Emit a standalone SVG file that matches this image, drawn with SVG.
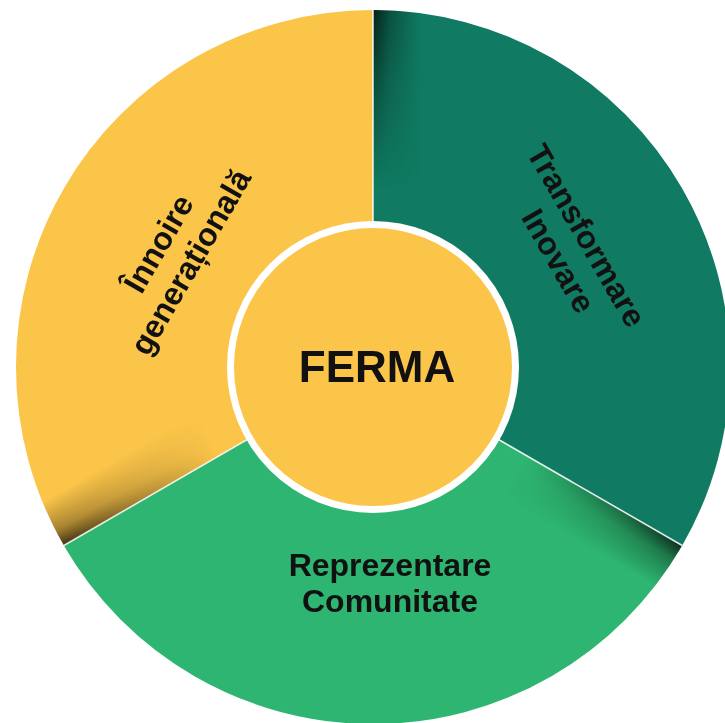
<svg xmlns="http://www.w3.org/2000/svg" width="725" height="723" viewBox="0 0 725 723">
  <style>
    .lbl { font-family: "Liberation Sans", Arial, sans-serif; font-weight: 700; font-size: 32px; fill: #111; text-anchor: middle; }
    .core { font-family: "Liberation Sans", Arial, sans-serif; font-weight: 700; font-size: 44px; fill: #111; text-anchor: middle; }
    .sep { stroke: #ffffff; stroke-opacity: 0.85; stroke-width: 1.6; }
  </style>
  <defs>
    <clipPath id="disc"><circle cx="0" cy="0" r="357"/></clipPath>
    <linearGradient id="shade" gradientUnits="userSpaceOnUse" x1="0" y1="0" x2="48" y2="0">
      <stop offset="0" stop-color="#000" stop-opacity="0.75"/>
      <stop offset="0.35" stop-color="#000" stop-opacity="0.35"/>
      <stop offset="1" stop-color="#000" stop-opacity="0"/>
    </linearGradient>
    <radialGradient id="fadeR" gradientUnits="userSpaceOnUse" cx="0" cy="0" r="357">
      <stop offset="0.5" stop-color="#000"/>
      <stop offset="0.8" stop-color="#888"/>
      <stop offset="1" stop-color="#fff"/>
    </radialGradient>
    <mask id="rimMask" maskUnits="userSpaceOnUse" x="-400" y="-400" width="800" height="800">
      <rect x="-400" y="-400" width="800" height="800" fill="url(#fadeR)"/>
    </mask>
    <g id="shadow">
      <rect x="0" y="-360" width="60" height="360" fill="url(#shade)"/>
    </g>
  </defs>
  <rect width="725" height="723" fill="#ffffff"/>
  <g transform="translate(373,367)">
    <g id="seg-innoire">
      <path d="M0,0 L0,-357 A357,357 0 0 0 -309.2,178.5 Z" fill="#FBC54A"/>
    </g>
    <g id="seg-transformare">
      <path d="M0,0 L0,-357 A357,357 0 0 1 309.2,178.5 Z" fill="#107B62"/>
    </g>
    <g id="seg-reprezentare">
      <path d="M0,0 L-309.2,178.5 A357,357 0 0 0 309.2,178.5 Z" fill="#2EB571"/>
    </g>
    <g id="shadows" clip-path="url(#disc)" mask="url(#rimMask)">
      <use href="#shadow"/>
      <use href="#shadow" transform="rotate(-120)"/>
      <use href="#shadow" transform="rotate(120)"/>
    </g>
    <g id="connectors">
      <line class="sep" x1="0" y1="0" x2="0" y2="-357"/>
      <line class="sep" x1="0" y1="0" x2="-309.2" y2="178.5"/>
      <line class="sep" x1="0" y1="0" x2="309.2" y2="178.5"/>
    </g>
    <g id="ferma">
      <circle cx="0" cy="0" r="142.5" fill="#FBC54A" stroke="#ffffff" stroke-width="7"/>
      <text class="core" x="4" y="15">FERMA</text>
    </g>
  </g>
  <g id="label-innoire" transform="translate(175,253) rotate(-60)">
    <text class="lbl" x="0" y="-8">Înnoire</text>
    <text class="lbl" x="0" y="29">generațională</text>
  </g>
  <g id="label-transformare" transform="translate(570,245) rotate(60)">
    <text class="lbl" x="0" y="-8">Transformare</text>
    <text class="lbl" x="8" y="29">Inovare</text>
  </g>
  <g id="label-reprezentare">
    <text class="lbl" x="390" y="576">Reprezentare</text>
    <text class="lbl" x="390" y="612">Comunitate</text>
  </g>
</svg>
